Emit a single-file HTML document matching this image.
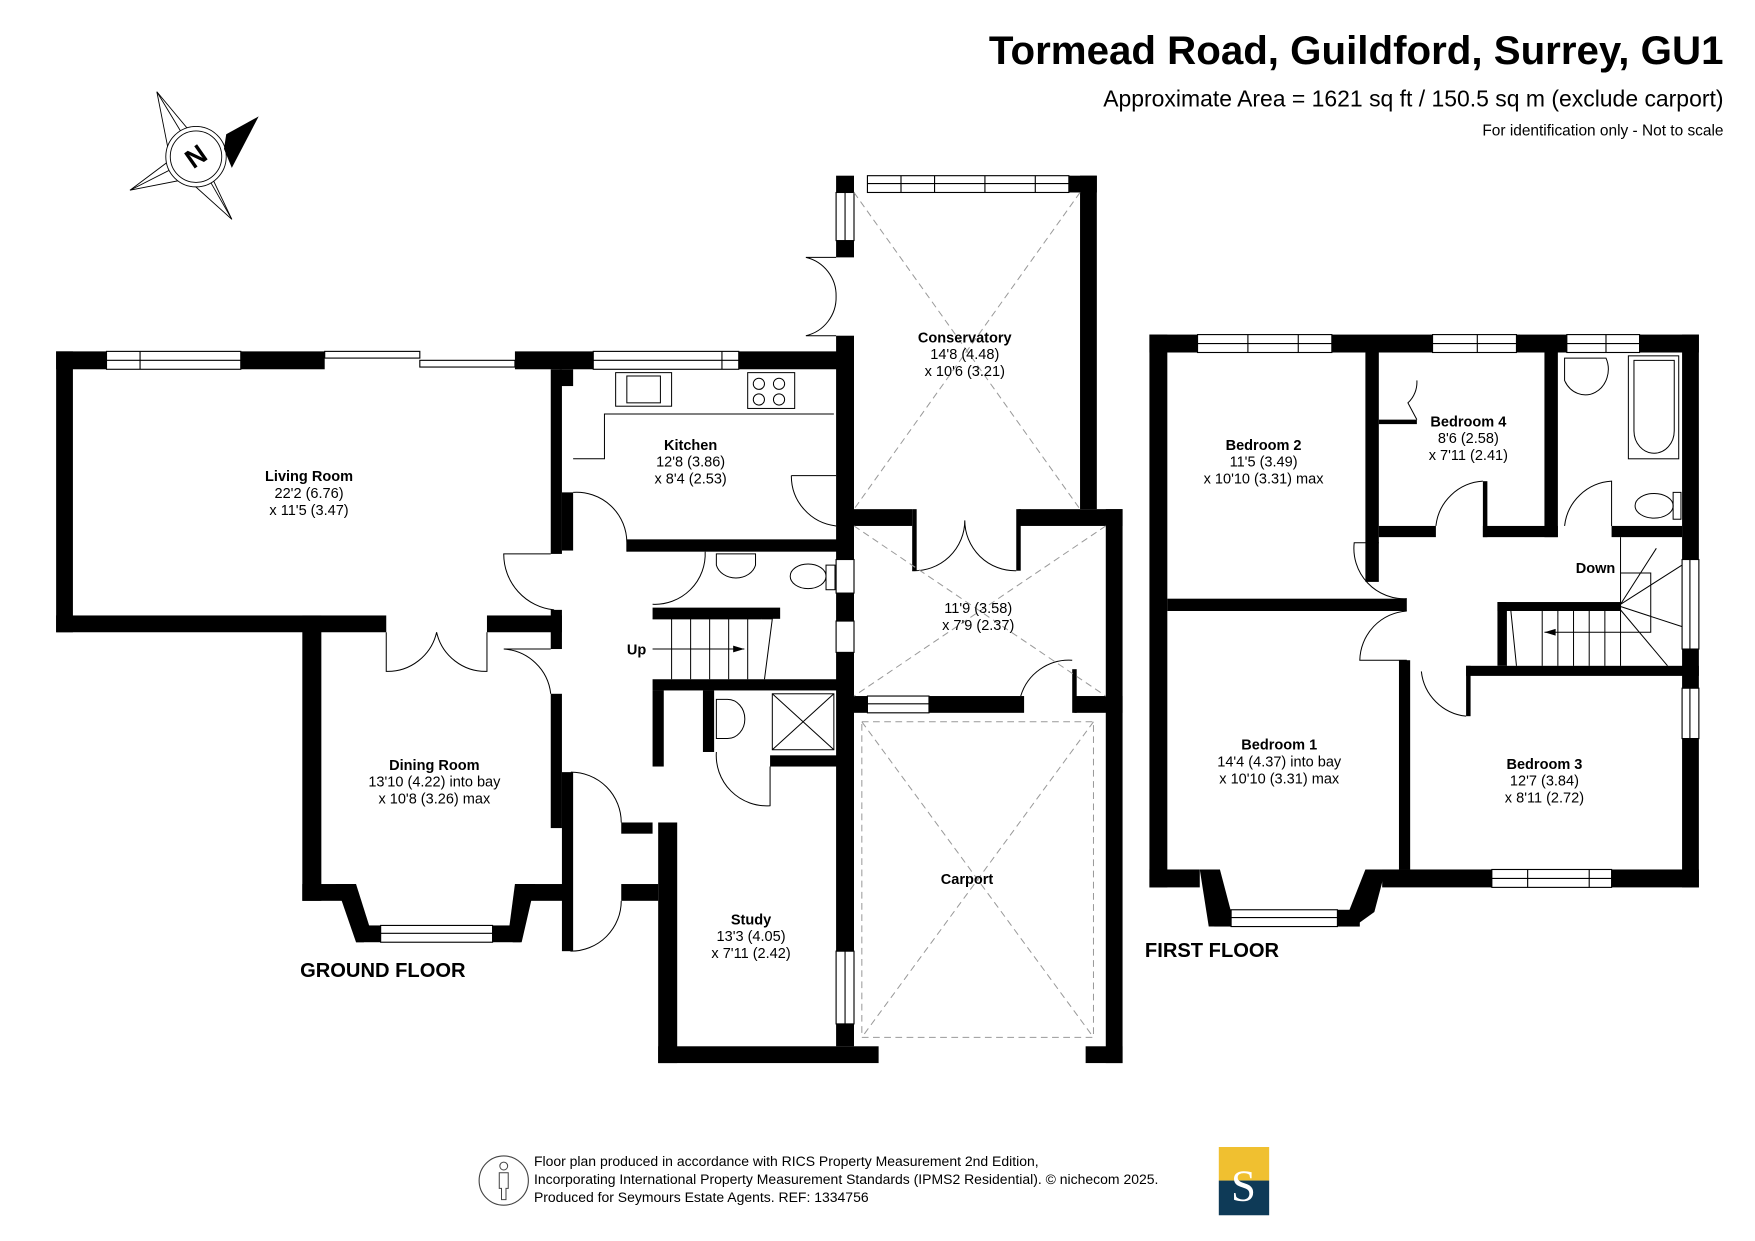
<!DOCTYPE html>
<html><head><meta charset="utf-8"><style>
html,body{margin:0;padding:0;background:#fff}
svg{display:block}
text{font-family:"Liberation Sans",Arial,sans-serif;fill:#000}
.b{font-weight:bold;font-size:13px}
.n{font-size:13px}
</style></head><body>
<svg width="1755" height="1241" viewBox="0 0 1568 1109" xmlns="http://www.w3.org/2000/svg">
<rect width="1568" height="1109" fill="#fff"/>
<text x="1540" y="57" text-anchor="end" style="font-weight:bold;font-size:36px">Tormead Road, Guildford, Surrey, GU1</text>
<text x="1540" y="95" text-anchor="end" style="font-size:20.5px">Approximate Area = 1621 sq ft / 150.5 sq m (exclude carport)</text>
<text x="1540" y="121" text-anchor="end" style="font-size:13.8px">For identification only - Not to scale</text>
<g stroke="#000" stroke-width="0.8" fill="none">
<polygon points="140,82 170,118 207,196 167,160 116,170 152,143"/>
<line x1="140" y1="82" x2="175" y2="140"/><line x1="116" y1="170" x2="175" y2="140"/><line x1="207" y1="196" x2="175" y2="140"/>
<circle cx="175" cy="140" r="27" fill="#fff"/><circle cx="175" cy="140" r="23"/>
</g>
<polygon points="202,120 231,104 207,150 200,133" fill="#000"/>
<text x="175" y="148" text-anchor="middle" transform="rotate(-35 175 140)" style="font-weight:bold;font-size:24px">N</text>

<g fill="#000">
<rect x="50" y="314" width="45" height="16"/>
<rect x="215" y="314" width="75" height="16"/>
<rect x="460" y="314" width="70" height="16"/>
<rect x="660" y="314" width="103" height="16"/>
<rect x="50" y="314" width="15" height="251"/>
<rect x="50" y="550" width="295" height="15"/>
<rect x="435" y="550" width="67" height="15"/>
<rect x="270" y="550" width="17" height="255"/>
<rect x="270" y="790" width="45" height="15"/>
<rect x="465" y="790" width="45" height="15"/>
<rect x="492" y="330" width="10" height="165"/>
<rect x="492" y="545" width="10" height="35"/>
<rect x="492" y="620" width="10" height="120"/>
<rect x="502" y="690" width="10" height="160"/>
<rect x="500" y="330" width="12" height="15"/>
<rect x="502" y="440" width="10" height="52"/>
<rect x="560" y="482" width="203" height="11"/>
<rect x="583" y="543" width="114" height="10"/>
<rect x="583" y="607" width="180" height="10"/>
<rect x="583" y="617" width="10" height="68"/>
<rect x="628" y="617" width="10" height="55"/>
<rect x="688" y="675" width="75" height="10"/>
<rect x="588" y="735" width="17" height="215"/>
<rect x="555" y="735" width="28" height="10"/>
<rect x="555" y="790" width="33" height="15"/>
<rect x="588" y="935" width="197" height="15"/>
<rect x="747" y="157" width="16" height="15"/>
<rect x="747" y="215" width="16" height="15"/>
<rect x="747" y="300" width="16" height="635"/>
<rect x="955" y="157" width="25" height="15"/>
<rect x="965" y="157" width="15" height="298"/>
<rect x="763" y="455" width="52" height="15"/>
<rect x="815" y="455" width="4" height="55"/>
<rect x="910" y="455" width="93" height="15"/>
<rect x="908" y="455" width="4" height="55"/>
<rect x="988" y="455" width="15" height="495"/>
<rect x="763" y="622" width="12" height="15"/>
<rect x="830" y="622" width="85" height="15"/>
<rect x="958" y="598" width="4" height="39"/>
<rect x="960" y="622" width="43" height="15"/>
<rect x="970" y="935" width="33" height="15"/>
<polygon points="300,790 318,790 330,828 325,842 318,842"/>
<polygon points="460,790 478,790 466,842 458,842 455,828"/>
<rect x="318" y="827" width="22" height="15"/>
<rect x="440" y="827" width="25" height="15"/>

<rect x="1027" y="299" width="43" height="16"/>
<rect x="1190" y="299" width="90" height="16"/>
<rect x="1355" y="299" width="45" height="16"/>
<rect x="1465" y="299" width="53" height="16"/>
<rect x="1027" y="299" width="16" height="494"/>
<rect x="1503" y="299" width="15" height="201"/>
<rect x="1503" y="580" width="15" height="35"/>
<rect x="1503" y="660" width="15" height="133"/>
<rect x="1027" y="777" width="45" height="16"/>
<rect x="1235" y="777" width="98" height="16"/>
<rect x="1440" y="777" width="78" height="16"/>
<rect x="1220" y="315" width="12" height="205"/>
<rect x="1232" y="470" width="51" height="10"/>
<rect x="1325" y="430" width="4" height="50"/>
<rect x="1325" y="470" width="67" height="10"/>
<rect x="1380" y="315" width="12" height="165"/>
<rect x="1440" y="470" width="63" height="10"/>
<rect x="1043" y="535" width="214" height="11"/>
<rect x="1250" y="590" width="10" height="187"/>
<rect x="1310" y="595" width="208" height="9"/>
<rect x="1310" y="595" width="4" height="45"/>
<rect x="1338" y="538" width="110" height="8"/>
<rect x="1338" y="538" width="8" height="57"/>
<rect x="1232" y="375" width="34" height="4"/>
<polygon points="1072,777 1090,777 1100,815 1088,828 1080,828"/>
<polygon points="1220,777 1238,777 1228,815 1210,828 1205,815"/>
<rect x="1085" y="813" width="15" height="15"/>
<rect x="1195" y="813" width="20" height="15"/>
</g>

<g fill="#fff" stroke="#000" stroke-width="1">
<rect x="95" y="314" width="120" height="16"/><line x1="95" y1="322" x2="215" y2="322"/><line x1="125" y1="314" x2="125" y2="330"/>
<rect x="530" y="314" width="130" height="16"/><line x1="530" y1="322" x2="660" y2="322"/><line x1="645" y1="314" x2="645" y2="330"/>
<rect x="290" y="314" width="85" height="6"/><rect x="375" y="322" width="85" height="6"/>
<rect x="775" y="157" width="180" height="15"/><line x1="775" y1="164" x2="955" y2="164"/>
<line x1="805" y1="157" x2="805" y2="172"/><line x1="835" y1="157" x2="835" y2="172"/><line x1="880" y1="157" x2="880" y2="172"/><line x1="925" y1="157" x2="925" y2="172"/>
<rect x="747" y="172" width="16" height="43"/><line x1="755" y1="172" x2="755" y2="215"/>
<rect x="775" y="622" width="55" height="15"/><line x1="775" y1="629" x2="830" y2="629"/>
<rect x="747" y="850" width="16" height="65"/><line x1="755" y1="850" x2="755" y2="915"/>
<rect x="747" y="500" width="16" height="30"/><rect x="747" y="555" width="16" height="28"/>
<rect x="340" y="827" width="100" height="15"/><line x1="340" y1="834" x2="440" y2="834"/>
<rect x="1070" y="299" width="120" height="16"/><line x1="1070" y1="307" x2="1190" y2="307"/><line x1="1115" y1="299" x2="1115" y2="315"/><line x1="1160" y1="299" x2="1160" y2="315"/>
<rect x="1280" y="299" width="75" height="16"/><line x1="1280" y1="307" x2="1355" y2="307"/><line x1="1320" y1="299" x2="1320" y2="315"/>
<rect x="1400" y="299" width="65" height="16"/><line x1="1400" y1="307" x2="1465" y2="307"/><line x1="1435" y1="299" x2="1435" y2="315"/>
<rect x="1503" y="500" width="15" height="80"/><line x1="1510" y1="500" x2="1510" y2="580"/>
<rect x="1503" y="615" width="15" height="45"/><line x1="1510" y1="615" x2="1510" y2="660"/>
<rect x="1333" y="777" width="107" height="16"/><line x1="1333" y1="785" x2="1440" y2="785"/><line x1="1365" y1="777" x2="1365" y2="793"/><line x1="1420" y1="777" x2="1420" y2="793"/>
<rect x="1100" y="813" width="95" height="15"/><line x1="1100" y1="820" x2="1195" y2="820"/>
</g>

<g fill="none" stroke="#000" stroke-width="0.9">
<path d="M747 230 L720 230 A35 35 0 0 1 747 265 M747 300 L720 300 A35 35 0 0 0 747 265"/>
<path d="M707 425 L747 425 M707 425 A45 45 0 0 0 747 470"/>
<path d="M512 440 A45 45 0 0 1 560 485 L560 493"/>
<path d="M512 410 L540 410 L540 370 L745 370"/>
<path d="M492 495 L450 495 A50 50 0 0 0 495 545"/>
<path d="M492 580 L450 580 A45 45 0 0 1 492 620"/>
<path d="M345 565 L345 600 A45 45 0 0 0 390 565 A45 45 0 0 0 435 600 L435 565"/>
<path d="M630 493 A45 45 0 0 1 583 540"/>
<path d="M510 805 L510 850 A45 45 0 0 0 555 805 M510 690 A45 45 0 0 1 555 735"/>
<path d="M640 672 A45 45 0 0 0 688 720 L688 685"/>
<path d="M815 510 A45 45 0 0 0 862 465 A45 45 0 0 0 908 510"/>
<path d="M912 622 A45 45 0 0 1 958 590"/>
<rect x="550" y="333" width="50" height="30"/><rect x="560" y="336" width="30" height="24"/>
<rect x="668" y="333" width="42" height="32"/>
<circle cx="678" cy="343" r="5"/><circle cx="696" cy="343" r="5"/><circle cx="678" cy="357" r="5"/><circle cx="696" cy="357" r="5"/>
<path d="M640 495 L675 495 L675 505 A18 15 0 0 1 640 505 Z"/>
<ellipse cx="722" cy="515" rx="16" ry="11"/><rect x="738" y="505" width="8" height="22"/>
<path d="M583 553 L680 553 M600 553 L600 607 M617 553 L617 607 M634 553 L634 607 M651 553 L651 607 M668 553 L668 607 M583 580 L665 580"/>
<path d="M680 553 L690 553 L683 607"/>
<rect x="690" y="620" width="55" height="50"/><line x1="690" y1="620" x2="745" y2="670"/><line x1="745" y1="620" x2="690" y2="670"/>
<path d="M640 625 L650 625 A15 17 0 0 1 650 660 L640 660 Z"/>
<path d="M1232 485 L1210 485 A45 45 0 0 0 1257 535"/>
<path d="M1257 590 L1215 590 A45 45 0 0 1 1257 546"/>
<path d="M1270 600 A45 45 0 0 0 1310 640"/>
<path d="M1283 470 A45 45 0 0 1 1325 430"/>
<path d="M1398 470 A45 45 0 0 1 1440 430 L1440 470"/>
<path d="M1266 340 A25 25 0 0 1 1258 360 L1266 375"/>
<rect x="1455" y="318" width="45" height="92"/><path d="M1460 322 L1496 322 L1496 385 A18 20 0 0 1 1460 385 Z"/>
<path d="M1398 320 L1435 320 A18 20 0 0 1 1398 340 Z"/>
<ellipse cx="1478" cy="452" rx="17" ry="11"/><rect x="1495" y="440" width="7" height="24"/>
<path d="M1448 480 L1448 538 M1346 546 L1346 595 M1350 546 L1355 595 M1378 546 L1378 595 M1392 546 L1392 595 M1406 546 L1406 595 M1420 546 L1420 595 M1434 546 L1434 595 M1448 538 L1448 595 M1448 512 L1475 512 L1475 565 L1448 565 M1448 540 L1503 505 M1448 542 L1503 560 M1448 545 L1490 595 M1448 540 L1480 490 M1380 565 L1448 565"/>
</g>
<g fill="none" stroke="#999" stroke-width="0.9" stroke-dasharray="6,4">
<line x1="763" y1="172" x2="965" y2="455"/><line x1="965" y1="172" x2="763" y2="455"/>
<line x1="763" y1="470" x2="988" y2="622"/><line x1="988" y1="470" x2="763" y2="622"/>
<rect x="770" y="645" width="207" height="282"/>
<line x1="770" y1="645" x2="977" y2="927"/><line x1="977" y1="645" x2="770" y2="927"/>
</g>
<polygon points="665,580 655,577 655,583" fill="#000"/>
<polygon points="1380,565 1390,562 1390,568" fill="#000"/>

<g text-anchor="middle">
<text x="276" y="430" class="b">Living Room</text><text x="276" y="445" class="n">22'2 (6.76)</text><text x="276" y="460" class="n">x 11'5 (3.47)</text>
<text x="617" y="402" class="b">Kitchen</text><text x="617" y="417" class="n">12'8 (3.86)</text><text x="617" y="432" class="n">x 8'4 (2.53)</text>
<text x="862" y="306" class="b">Conservatory</text><text x="862" y="321" class="n">14'8 (4.48)</text><text x="862" y="336" class="n">x 10'6 (3.21)</text>
<text x="874" y="548" class="n">11'9 (3.58)</text><text x="874" y="563" class="n">x 7'9 (2.37)</text>
<text x="388" y="688" class="b">Dining Room</text><text x="388" y="703" class="n">13'10 (4.22) into bay</text><text x="388" y="718" class="n">x 10'8 (3.26)  max</text>
<text x="671" y="826" class="b">Study</text><text x="671" y="841" class="n">13'3 (4.05)</text><text x="671" y="856" class="n">x 7'11 (2.42)</text>
<text x="864" y="790" class="b">Carport</text>
<text x="1129" y="402" class="b">Bedroom 2</text><text x="1129" y="417" class="n">11'5 (3.49)</text><text x="1129" y="432" class="n">x 10'10 (3.31) max</text>
<text x="1312" y="381" class="b">Bedroom 4</text><text x="1312" y="396" class="n">8'6 (2.58)</text><text x="1312" y="411" class="n">x 7'11 (2.41)</text>
<text x="1143" y="670" class="b">Bedroom 1</text><text x="1143" y="685" class="n">14'4 (4.37) into bay</text><text x="1143" y="700" class="n">x 10'10 (3.31) max</text>
<text x="1380" y="687" class="b">Bedroom 3</text><text x="1380" y="702" class="n">12'7 (3.84)</text><text x="1380" y="717" class="n">x 8'11 (2.72)</text>
</g>
<text x="560" y="585" class="b">Up</text>
<text x="1408" y="512" class="b">Down</text>
<text x="268" y="873" style="font-weight:bold;font-size:18px">GROUND FLOOR</text>
<text x="1023" y="855" style="font-weight:bold;font-size:18px">FIRST FLOOR</text>
<circle cx="450" cy="1055" r="22" fill="none" stroke="#444"/>
<g fill="none" stroke="#444" stroke-width="0.9"><circle cx="450" cy="1042" r="3.5"/><path d="M446 1048 L454 1048 L454 1062 L452 1062 L452 1072 L448 1072 L448 1062 L446 1062 Z"/></g>
<g style="font-size:12.5px">
<text x="477" y="1042" fill="#444">Floor plan produced in accordance with RICS Property Measurement 2nd Edition,</text>
<text x="477" y="1058" fill="#444">Incorporating International Property Measurement Standards (IPMS2 Residential).   © nichecom 2025.</text>
<text x="477" y="1074" fill="#444">Produced for Seymours Estate Agents.   REF: 1334756</text>
</g>
<rect x="1089" y="1025" width="45" height="30" fill="#f0c030"/>
<rect x="1089" y="1055" width="45" height="31" fill="#0e3a57"/>
<text x="1111" y="1073" text-anchor="middle" style="font-family:'Liberation Serif',serif;font-size:40px;fill:#fff">S</text>
</svg>
</body></html>
